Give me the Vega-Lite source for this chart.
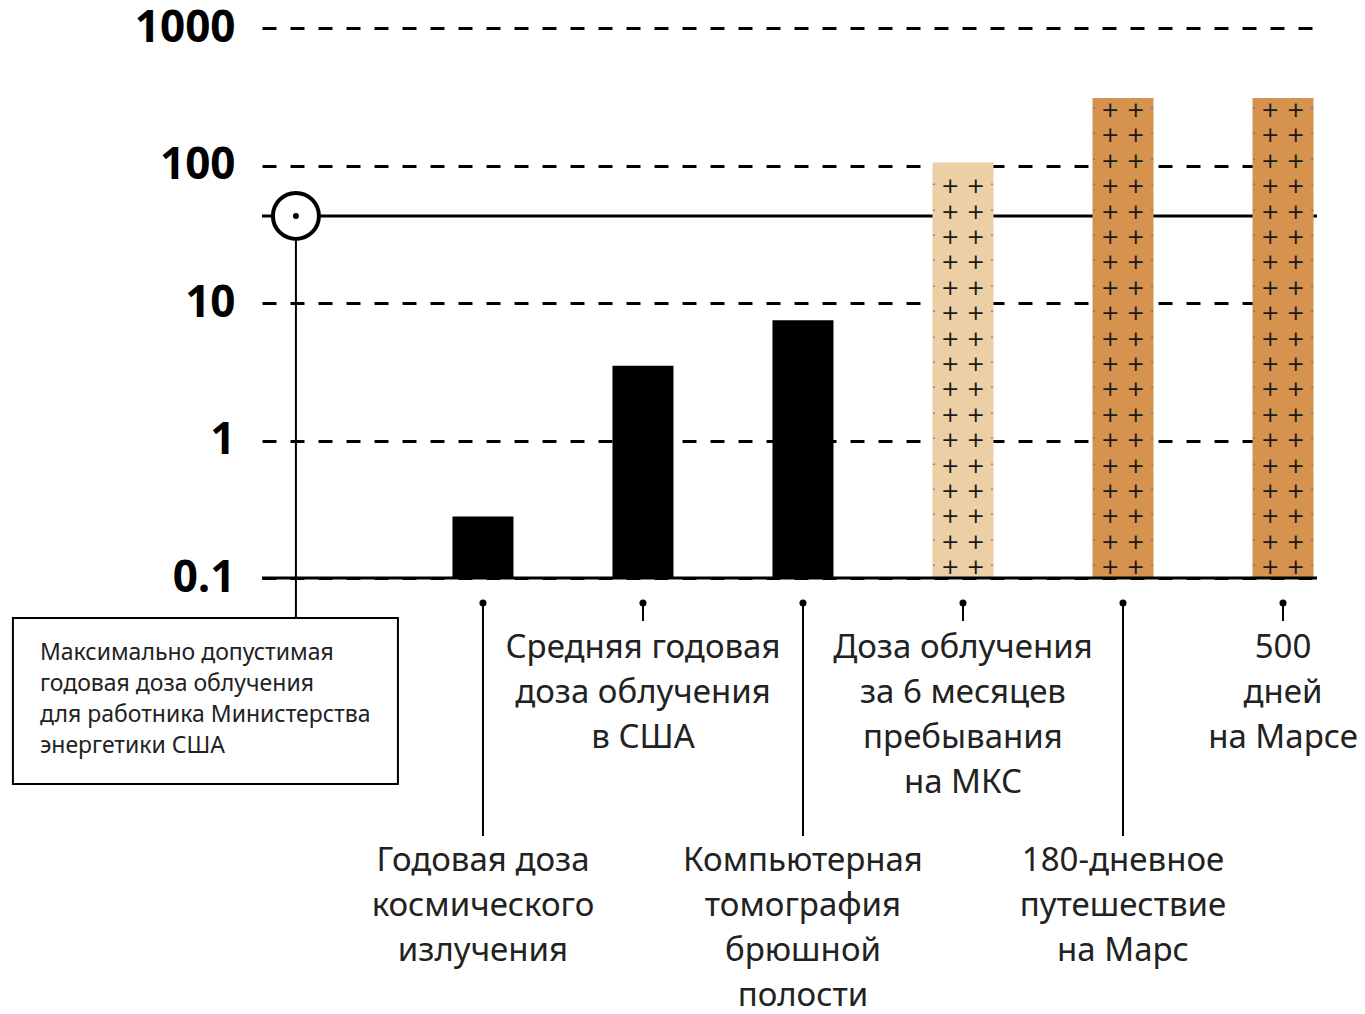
{
  "$schema": "https://vega.github.io/schema/vega-lite/v6.json",
  "autosize": {"type": "none"},
  "padding": {"left": 262, "top": 28, "right": 48, "bottom": 436},
  "width": 1055,
  "height": 550,
  "background": "white",
  "config": {"view": {"stroke": null}},
  "datasets": {
    "bars": [
      {"pos": 1, "value": 0.28, "kind": "earth", "label": "Годовая доза\nкосмического\nизлучения"},
      {"pos": 2, "value": 3.5, "kind": "earth", "label": "Средняя годовая\nдоза облучения\nв США"},
      {"pos": 3, "value": 7.5, "kind": "earth", "label": "Компьютерная\nтомография\nбрюшной\nполости"},
      {"pos": 4, "value": 105, "kind": "iss", "label": "Доза облучения\nза 6 месяцев\nпребывания\nна МКС"},
      {"pos": 5, "value": 310, "kind": "mars", "label": "180-дневное\nпутешествие\nна Марс"},
      {"pos": 6, "value": 310, "kind": "mars", "label": "500\nдней\nна Марсе"}
    ],
    "limit": [{"dose": 43, "pos": -0.169, "label": "Максимально допустимая\nгодовая доза облучения\nдля работника Министерства\nэнергетики США"}]
  },
  "layer": [
    {
      "data": {"name": "limit"},
      "mark": {"type": "rule", "strokeWidth": 3, "color": "black"},
      "encoding": {
        "y": {"field": "dose", "type": "quantitative", "scale": {"type": "log", "domain": [0.1, 1000], "nice": false},
          "axis": {"values": [0.1, 1, 10, 100, 1000], "format": "~g", "title": null, "grid": true, "gridDash": [14, 14], "gridColor": "black", "gridWidth": 3, "gridOpacity": 1, "domain": false, "ticks": false, "labelPadding": 27, "labelFont": "Open Sans", "labelFontWeight": "bold", "labelFontSize": 44, "labelColor": "black", "labelFlush": false, "labelOverlap": false}}
      }
    },
    {
      "data": {"name": "bars"},
      "mark": {"type": "bar", "size": 61, "orient": "vertical"},
      "encoding": {
        "x": {"field": "pos", "type": "quantitative", "scale": {"domain": [-0.381, 6.2125], "nice": false, "zero": false, "padding": 0}, "axis": null},
        "y": {"field": "value", "type": "quantitative", "scale": {"type": "log", "domain": [0.1, 1000], "nice": false}},
        "y2": {"datum": 0.1},
        "color": {"field": "kind", "type": "nominal", "scale": {"domain": ["earth", "iss", "mars"], "range": ["#000000", "#EDCFA6", "#D5934F"]}, "legend": null}
      }
    },
    {
      "data": {"name": "bars"},
      "transform": [{"filter": "datum.kind == 'mars'"}],
      "mark": {"type": "text", "font": "DejaVu Sans", "fontSize": 22, "lineHeight": 25.4, "baseline": "top", "align": "center", "color": "#1a1a1a", "yOffset": 72,
        "text": ["+ +", "+ +", "+ +", "+ +", "+ +", "+ +", "+ +", "+ +", "+ +", "+ +", "+ +", "+ +", "+ +", "+ +", "+ +", "+ +", "+ +", "+ +", "+ +"]},
      "encoding": {
        "x": {"field": "pos", "type": "quantitative"},
        "y": {"datum": 1000}
      }
    },
    {
      "data": {"name": "bars"},
      "transform": [{"filter": "datum.kind == 'iss'"}],
      "mark": {"type": "text", "font": "DejaVu Sans", "fontSize": 22, "lineHeight": 25.4, "baseline": "top", "align": "center", "color": "#1a1a1a", "yOffset": 148.2,
        "text": ["+ +", "+ +", "+ +", "+ +", "+ +", "+ +", "+ +", "+ +", "+ +", "+ +", "+ +", "+ +", "+ +", "+ +", "+ +", "+ +"]},
      "encoding": {
        "x": {"field": "pos", "type": "quantitative"},
        "y": {"datum": 1000}
      }
    },
    {
      "data": {"name": "bars"},
      "transform": [{"filter": "datum.kind == 'mars'"}],
      "mark": {"type": "text", "font": "DejaVu Sans", "fontSize": 12, "lineHeight": 25.4, "baseline": "top", "align": "center", "color": "#666666", "xOffset": -29, "yOffset": 76,
        "text": ["·", "·", "·", "·", "·", "·", "·", "·", "·", "·", "·", "·", "·", "·", "·", "·", "·", "·", "·"]},
      "encoding": {
        "x": {"field": "pos", "type": "quantitative"},
        "y": {"datum": 1000}
      }
    },
    {
      "data": {"name": "bars"},
      "transform": [{"filter": "datum.kind == 'mars'"}],
      "mark": {"type": "text", "font": "DejaVu Sans", "fontSize": 12, "lineHeight": 25.4, "baseline": "top", "align": "center", "color": "#666666", "xOffset": 29, "yOffset": 76,
        "text": ["·", "·", "·", "·", "·", "·", "·", "·", "·", "·", "·", "·", "·", "·", "·", "·", "·", "·", "·"]},
      "encoding": {
        "x": {"field": "pos", "type": "quantitative"},
        "y": {"datum": 1000}
      }
    },
    {
      "data": {"name": "bars"},
      "transform": [{"filter": "datum.kind == 'iss'"}],
      "mark": {"type": "text", "font": "DejaVu Sans", "fontSize": 12, "lineHeight": 25.4, "baseline": "top", "align": "center", "color": "#666666", "xOffset": -29, "yOffset": 152.2,
        "text": ["·", "·", "·", "·", "·", "·", "·", "·", "·", "·", "·", "·", "·", "·", "·", "·"]},
      "encoding": {
        "x": {"field": "pos", "type": "quantitative"},
        "y": {"datum": 1000}
      }
    },
    {
      "data": {"name": "bars"},
      "transform": [{"filter": "datum.kind == 'iss'"}],
      "mark": {"type": "text", "font": "DejaVu Sans", "fontSize": 12, "lineHeight": 25.4, "baseline": "top", "align": "center", "color": "#666666", "xOffset": 29, "yOffset": 152.2,
        "text": ["·", "·", "·", "·", "·", "·", "·", "·", "·", "·", "·", "·", "·", "·", "·", "·"]},
      "encoding": {
        "x": {"field": "pos", "type": "quantitative"},
        "y": {"datum": 1000}
      }
    },
    {
      "data": {"values": [{}]},
      "mark": {"type": "rule", "strokeWidth": 3, "color": "black"},
      "encoding": {"y": {"datum": 0.1}}
    },
    {
      "data": {"name": "limit"},
      "mark": {"type": "rule", "strokeWidth": 2, "color": "black", "y2Offset": 40},
      "encoding": {
        "x": {"field": "pos", "type": "quantitative"},
        "y": {"field": "dose", "type": "quantitative"},
        "y2": {"datum": 0.1}
      }
    },
    {
      "data": {"name": "limit"},
      "mark": {"type": "rect", "fill": "white", "stroke": "black", "strokeWidth": 2, "xOffset": -283, "x2Offset": 102, "yOffset": 40, "y2Offset": 206},
      "encoding": {
        "x": {"field": "pos", "type": "quantitative"},
        "x2": {"field": "pos"},
        "y": {"datum": 0.1},
        "y2": {"datum": 0.1}
      }
    },
    {
      "data": {"name": "limit"},
      "mark": {"type": "text", "font": "Noto Sans", "fontSize": 23, "lineHeight": 31, "lineBreak": "\n", "align": "left", "baseline": "line-top", "color": "#222222", "xOffset": -256, "yOffset": 60},
      "encoding": {
        "x": {"field": "pos", "type": "quantitative"},
        "y": {"datum": 0.1},
        "text": {"field": "label"}
      }
    },
    {
      "data": {"name": "limit"},
      "mark": {"type": "point", "shape": "circle", "filled": false, "fill": "white", "fillOpacity": 1, "stroke": "black", "strokeWidth": 4, "size": 2116, "opacity": 1},
      "encoding": {
        "x": {"field": "pos", "type": "quantitative"},
        "y": {"field": "dose", "type": "quantitative"}
      }
    },
    {
      "data": {"name": "limit"},
      "mark": {"type": "point", "shape": "circle", "filled": true, "color": "black", "size": 36, "opacity": 1},
      "encoding": {
        "x": {"field": "pos", "type": "quantitative"},
        "y": {"field": "dose", "type": "quantitative"}
      }
    },
    {
      "data": {"name": "bars"},
      "transform": [{"filter": "datum.pos % 2 == 0"}],
      "mark": {"type": "rule", "strokeWidth": 2, "color": "black", "yOffset": 25, "y2Offset": 43},
      "encoding": {
        "x": {"field": "pos", "type": "quantitative"},
        "y": {"datum": 0.1},
        "y2": {"datum": 0.1}
      }
    },
    {
      "data": {"name": "bars"},
      "transform": [{"filter": "datum.pos % 2 == 1"}],
      "mark": {"type": "rule", "strokeWidth": 2, "color": "black", "yOffset": 25, "y2Offset": 258},
      "encoding": {
        "x": {"field": "pos", "type": "quantitative"},
        "y": {"datum": 0.1},
        "y2": {"datum": 0.1}
      }
    },
    {
      "data": {"name": "bars"},
      "mark": {"type": "point", "shape": "circle", "filled": true, "color": "black", "size": 50, "opacity": 1, "yOffset": 25},
      "encoding": {
        "x": {"field": "pos", "type": "quantitative"},
        "y": {"datum": 0.1}
      }
    },
    {
      "data": {"name": "bars"},
      "transform": [{"filter": "datum.pos % 2 == 0"}],
      "mark": {"type": "text", "font": "Noto Sans", "fontSize": 33, "lineHeight": 45, "lineBreak": "\n", "align": "center", "baseline": "line-top", "color": "#222222", "yOffset": 48},
      "encoding": {
        "x": {"field": "pos", "type": "quantitative"},
        "y": {"datum": 0.1},
        "text": {"field": "label"}
      }
    },
    {
      "data": {"name": "bars"},
      "transform": [{"filter": "datum.pos % 2 == 1"}],
      "mark": {"type": "text", "font": "Noto Sans", "fontSize": 33, "lineHeight": 45, "lineBreak": "\n", "align": "center", "baseline": "line-top", "color": "#222222", "yOffset": 261},
      "encoding": {
        "x": {"field": "pos", "type": "quantitative"},
        "y": {"datum": 0.1},
        "text": {"field": "label"}
      }
    }
  ]
}
